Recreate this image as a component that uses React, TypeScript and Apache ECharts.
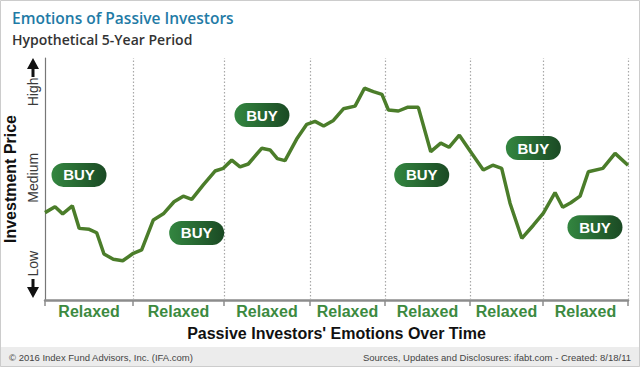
import React, { useEffect, useRef } from "react";
import * as echarts from "echarts";

// time in months over the 5-year period, and a relative price index (0 = low, 100 = high)
const months = [
  0, 1.03, 1.82, 2.81, 3.52, 4.55, 5.32, 6.07, 7.03, 8.0, 9.09, 9.95, 11.15, 12.18, 13.28, 14.23,
  15.1, 16.29, 17.5, 18.35, 19.22, 20.07, 20.92, 22.3, 23.16, 23.91, 24.7, 25.9, 26.94, 27.79,
  28.68, 29.68, 30.71, 31.91, 32.88, 33.79, 34.68, 35.34, 36.37, 37.29, 38.42, 39.7, 40.73, 41.58,
  42.64, 43.91, 45.11, 46.08, 47.0, 47.86, 49.07, 50.26, 51.29, 52.49, 53.28, 54.11, 55.07, 55.92,
  57.41, 58.67, 60,
];
const price = [
  36.1, 38.5, 35.6, 38.9, 29.6, 29.2, 27.8, 19.0, 16.8, 16.2, 19.3, 20.7, 33.1, 35.6, 40.6, 42.9,
  41.6, 47.6, 53.3, 54.4, 57.8, 55.0, 56.2, 62.7, 62.0, 58.4, 57.6, 66.5, 72.6, 73.8,
  71.9, 74.2, 79.0, 80.1, 87.5, 86.1, 85.0, 78.5, 78.1, 79.6, 79.6, 61.3, 64.8, 63.1,
  68.1, 60.6, 53.7, 55.7, 54.4, 40.0, 25.5, 30.9, 35.9, 44.4, 38.3, 40.2, 42.9, 53.0,
  54.4, 60.6, 55.7,
];
// emotional phases along the time axis
const phaseBounds = [0, 9.06, 18.42, 27.27, 34.99, 43.74, 51.25, 60];
const phaseLabels = ["Relaxed", "Relaxed", "Relaxed", "Relaxed", "Relaxed", "Relaxed", "Relaxed"];
// price level tick labels and where they sit on the 0-100 price scale
const priceLevels = ["Low", "Medium", "High"];
const priceLevelValues = [15, 50.5, 86];
// BUY annotations
const buyMonths = [3.5, 15.61, 22.33, 38.77, 50.26, 56.6];
const buyPrices = [51.7, 27.7, 76.4, 51.7, 62.8, 30.1];
const buyLabel = "BUY";

const FONT = "'Liberation Sans', Arial, sans-serif";

function nearestIndex(list: number[], v: number) {
  let idx = 0;
  let best = Infinity;
  list.forEach((m, i) => {
    if (Math.abs(m - v) < best) {
      best = Math.abs(m - v);
      idx = i;
    }
  });
  return idx;
}

export default function App() {
  const ref = useRef<HTMLDivElement>(null);

  useEffect(() => {
    if (!ref.current) return;
    const chart = echarts.init(ref.current, null, { renderer: "svg" });
    const mids = phaseLabels.map((_, i) => (phaseBounds[i] + phaseBounds[i + 1]) / 2);
    const pill = "path://M12,0 L43,0 A12,12 0 0 1 43,24 L12,24 A12,12 0 0 1 12,0 Z";

    chart.setOption({
      animation: false,
      backgroundColor: "#ffffff",
      title: [
        {
          text: "Emotions of Passive Investors",
          left: 7,
          top: 5,
          textStyle: { color: "#1f7ba6", fontSize: 15.5, fontWeight: 600, fontFamily: "'Open Sans', sans-serif" },
        },
        {
          text: "Hypothetical 5-Year Period",
          left: 7,
          top: 27,
          textStyle: { color: "#333333", fontSize: 14, fontWeight: 600, fontFamily: "'Open Sans', sans-serif" },
        },
      ],
      grid: { left: 45, right: 12, top: 58, bottom: 67, containLabel: false, outerBoundsMode: "none" },
      xAxis: {
        type: "value",
        min: 0,
        max: 60,
        splitLine: { show: false },
        axisLine: { show: true, lineStyle: { color: "#8c8c8c", width: 2.5 } },
        axisTick: { show: true, customValues: phaseBounds, length: 6, lineStyle: { color: "#8c8c8c", width: 1.5 } },
        axisLabel: {
          customValues: mids,
          formatter: (v: number) => phaseLabels[nearestIndex(mids, v)],
          color: "#3c8a3f",
          fontWeight: "bold",
          fontSize: 16,
          fontFamily: FONT,
          margin: 3,
        },
        name: "Passive Investors' Emotions Over Time",
        nameLocation: "middle",
        nameGap: 25,
        nameTextStyle: { color: "#111111", fontWeight: "bold", fontSize: 16, fontFamily: FONT },
      },
      yAxis: {
        type: "value",
        min: 0,
        max: 100,
        splitLine: { show: false },
        axisLine: { show: true, lineStyle: { color: "#777777", width: 1.2 } },
        axisTick: { show: false },
        axisLabel: {
          customValues: priceLevelValues,
          formatter: (v: number) => priceLevels[nearestIndex(priceLevelValues, v)],
          rotate: 90,
          fontSize: 14,
          color: "#3a3a3a",
          fontFamily: FONT,
          margin: 5,
        },
        name: "Investment Price",
        nameLocation: "middle",
        nameGap: 18,
        nameRotate: 90,
        nameTextStyle: { color: "#111111", fontWeight: "bold", fontSize: 16, fontFamily: FONT },
      },
      series: [
        {
          type: "line",
          data: months.map((m, i) => [m, price[i]]),
          symbol: "none",
          lineStyle: { color: "#4b7d2a", width: 3.5 },
          z: 3,
          markLine: {
            silent: true,
            symbol: ["none", "none"],
            label: { show: false },
            lineStyle: { type: [1.5, 2], color: "#a8a8a8", width: 1.2 },
            data: phaseBounds.slice(1).map((b) => ({ xAxis: b })),
            z: 1,
          },
        },
        {
          type: "scatter",
          data: buyMonths.map((m, i) => [m, buyPrices[i]]),
          symbol: pill,
          symbolSize: [55, 24],
          z: 5,
          itemStyle: {
            opacity: 1,
            color: new echarts.graphic.LinearGradient(0, 0, 1, 0, [
              { offset: 0, color: "#338640" },
              { offset: 1, color: "#1b4a24" },
            ]),
          },
          label: {
            show: true,
            position: "inside",
            formatter: () => buyLabel,
            color: "#ffffff",
            fontWeight: "bold",
            fontSize: 15,
            fontFamily: FONT,
          },
        },
      ],
      graphic: [
        {
          type: "rect",
          shape: { x: 0, y: 347, width: 640, height: 20 },
          style: { fill: "#ececec" },
          silent: true,
        },
        {
          type: "rect",
          shape: { x: 0.5, y: 0.5, width: 639, height: 366 },
          style: { fill: "none", stroke: "#cccccc", lineWidth: 1 },
          silent: true,
        },
        {
          type: "polygon",
          shape: { points: [[33, 58], [39, 69], [34.5, 69], [34.5, 77], [31.5, 77], [31.5, 69], [27, 69]] },
          style: { fill: "#111111" },
          silent: true,
        },
        {
          type: "polygon",
          shape: { points: [[33, 298], [39, 287], [34.5, 287], [34.5, 279], [31.5, 279], [31.5, 287], [27, 287]] },
          style: { fill: "#111111" },
          silent: true,
        },
        {
          type: "text",
          left: 9,
          top: 352,
          style: { text: "© 2016 Index Fund Advisors, Inc. (IFA.com)", fill: "#444444", fontSize: 9.5, fontFamily: FONT },
          silent: true,
        },
        {
          type: "text",
          right: 9,
          top: 352,
          style: { text: "Sources, Updates and Disclosures: ifabt.com - Created: 8/18/11", fill: "#444444", fontSize: 9.5, fontFamily: FONT },
          silent: true,
        },
      ],
    });

    return () => chart.dispose();
  }, []);

  return (
    <div
      ref={ref}
      style={{ position: "fixed", left: 0, top: 0, width: 640, height: 367 }}
    />
  );
}
